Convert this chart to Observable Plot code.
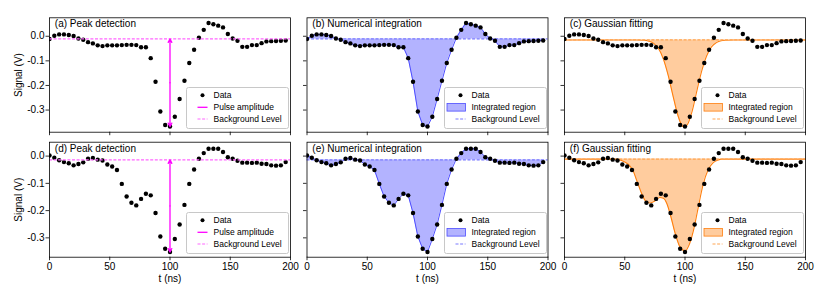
<!DOCTYPE html>
<html><head><meta charset="utf-8">
<script src="https://cdn.jsdelivr.net/npm/d3@7"></script>
<script src="https://cdn.jsdelivr.net/npm/@observablehq/plot@0.6"></script>
<style>
body{margin:0;background:#fff;}
#chart{position:relative;width:830px;height:286px;font-family:"Liberation Sans",Arial,sans-serif;}
#chart svg{position:absolute;left:0;top:0;}
</style></head><body><div id="chart"></div>
<script>
// ---- data ----
const t = [0,4,8,12,16,20,24,28,32,36,40,44,48,52,56,60,64,68,72,76,80,84,88,92,96,100,104,108,112,116,120,124,128,132,136,140,144,148,152,156,160,164,168,172,176,180,184,188,192,196];
const signalTop = [-0.011,0.002,0.0075,0.0075,0.005,0.001,-0.009,-0.014,-0.024,-0.029,-0.037,-0.040,-0.037,-0.037,-0.037,-0.036,-0.035,-0.035,-0.036,-0.045,-0.045,-0.089,-0.185,-0.306,-0.361,-0.367,-0.327,-0.255,-0.181,-0.109,-0.055,-0.006,0.026,0.054,0.049,0.043,0.036,0.009,-0.009,-0.018,-0.043,-0.043,-0.036,-0.036,-0.028,-0.021,-0.020,-0.019,-0.018,-0.017];
const signalBottom = [0.002,-0.006,-0.015,-0.022,-0.026,-0.034,-0.029,-0.023,-0.010,-0.007,-0.013,-0.016,-0.031,-0.038,-0.051,-0.102,-0.148,-0.171,-0.181,-0.157,-0.138,-0.144,-0.209,-0.295,-0.340,-0.352,-0.304,-0.251,-0.179,-0.102,-0.049,-0.010,0.011,0.027,0.027,0.027,0.015,-0.004,-0.010,-0.017,-0.024,-0.024,-0.025,-0.024,-0.028,-0.029,-0.034,-0.035,-0.034,-0.022];
const backgroundTop = -0.011;
const backgroundBottom = -0.014;
const fitBackgroundTop = -0.015;
const fitBackgroundBottom = -0.011;
// Gaussian fit curves (c) and (f)
const fitTopT = [0,60,66,70,74,78,82,86,90,94,98,100,102,106,110,114,118,122,126,130,134,140,200];
const fitTopV = [-0.015,-0.015,-0.016,-0.020,-0.029,-0.050,-0.092,-0.158,-0.241,-0.320,-0.366,-0.370,-0.359,-0.303,-0.219,-0.139,-0.079,-0.043,-0.026,-0.018,-0.016,-0.015,-0.015];
const fitBottomT = [0,40,45,50,54,57,60,64,67,71,75,79,82,85,88,92,96,100,103,107,111,115,119,123,127,131,200];
const fitBottomV = [-0.011,-0.011,-0.013,-0.022,-0.035,-0.055,-0.090,-0.137,-0.163,-0.172,-0.165,-0.152,-0.155,-0.175,-0.218,-0.286,-0.335,-0.348,-0.330,-0.273,-0.188,-0.105,-0.052,-0.026,-0.015,-0.011,-0.011];
const titlesTop = ["(a) Peak detection","(b) Numerical integration","(c) Gaussian fitting"];
const titlesBottom = ["(d) Peak detection","(e) Numerical integration","(f) Gaussian fitting"];
const legendPeak = ["Data","Pulse amplitude","Background Level"];
const legendArea = ["Data","Integrated region","Background Level"];
const xTicks = [0,50,100,150,200];
const yTicks = [0,-0.1,-0.2,-0.3];

// ---- layout ----
const W = 830, H = 286, FW = 241;
const colLeft = [49, 306.5, 564];
const rowBox = [[17.3,131.7],[141.7,256.7]];
const yDomains = [[-0.390,0.075],[-0.371,0.051]];
const FONT = '"Liberation Sans", Arial, sans-serif';

const styles = {
  peak:  {line:"#ff00ff", bg:"#ff66ff"},
  integ: {fill:"#b3b3ff", edge:"#4d4dff", bg:"#7a7aff"},
  gauss: {fill:"#ffcc9e", edge:"#ff7f0e", bg:"#ffa552"}
};

const fmtY = d => d3.format(".1f")(d).replace("\u2212","-");

function panel(row, col) {
  const sig = row === 0 ? signalTop : signalBottom;
  const data = t.map((x,i) => ({t:x, v:sig[i]}));
  const bg = row === 0 ? backgroundTop : backgroundBottom;
  const fbg = row === 0 ? fitBackgroundTop : fitBackgroundBottom;
  const fT = row === 0 ? fitTopT : fitBottomT;
  const fV = row === 0 ? fitTopV : fitBottomV;
  const fit = fT.map((x,i) => ({t:x, v:fV[i]}));
  const title = (row === 0 ? titlesTop : titlesBottom)[col];
  const [top, bottom] = rowBox[row];
  const left = colLeft[col];
  const kind = ["peak","integ","gauss"][col];
  const st = styles[kind];
  const marks = [];
  if (kind === "integ") {
    marks.push(Plot.areaY(data, {x:"t", y1:() => bg, y2:"v", fill:st.fill, stroke:null}));
    marks.push(Plot.line(data, {x:"t", y:"v", stroke:st.edge, strokeWidth:1}));
    marks.push(Plot.ruleY([bg], {stroke:st.bg, strokeWidth:1.2, strokeDasharray:"3,1.6"}));
  }
  if (kind === "gauss") {
    marks.push(Plot.areaY(fit, {x:"t", y1:() => fbg, y2:"v", fill:st.fill, stroke:null, curve:"monotone-x"}));
    marks.push(Plot.line(fit, {x:"t", y:"v", stroke:st.edge, strokeWidth:1.1, curve:"monotone-x"}));
    marks.push(Plot.ruleY([fbg], {stroke:st.bg, strokeWidth:1.2, strokeDasharray:"3,1.6"}));
  }
  marks.push(Plot.dot(data, {x:"t", y:"v", r:2.2, fill:"black", stroke:null, clip:true}));
  if (kind === "peak") {
    marks.push(Plot.ruleY([bg], {stroke:st.bg, strokeWidth:1.2, strokeDasharray:"3,1.6"}));
    const minV = d3.min(sig);
    const tMin = t[sig.indexOf(minV)];
    const mid = (minV + bg) / 2;
    const arr = [{x:tMin, a:mid, b:bg}, {x:tMin, a:mid, b:minV}];
    marks.push(Plot.arrow(arr, {x1:"x", x2:"x", y1:"a", y2:"b", stroke:st.line, strokeWidth:1.3, headLength:4.5, headAngle:55}));
  }
  marks.push(Plot.text([title], {frameAnchor:"top-left", dx:5.3, dy:2.2, lineAnchor:"top", textAnchor:"start", fontSize:10, fill:"black"}));
  marks.push(Plot.frame({stroke:"black", strokeWidth:0.8}));
  marks.push(Plot.axisY({ticks:yTicks, tickSize:3.5, tickPadding:1.5, strokeWidth:0.8,
    tickFormat: col === 0 ? fmtY : () => "",
    label: col === 0 ? "Signal (V)" : null, labelAnchor:"center", labelArrow:"none", labelOffset:35, fontSize:10}));
  marks.push(Plot.axisX({ticks:xTicks, tickSize:3.5, tickPadding:2, strokeWidth:0.8,
    tickFormat: row === 1 ? (d => String(d)) : () => "",
    label: row === 1 ? "t (ns)" : null, labelAnchor:"center", labelArrow:"none", labelOffset:25, fontSize:10}));

  const svg = Plot.plot({
    width: W, height: H,
    marginLeft: left, marginRight: W - left - FW,
    marginTop: top, marginBottom: H - bottom,
    x: {domain:[0,200]},
    y: {domain: yDomains[row]},
    style: {background:"transparent", overflow:"visible", fontFamily:FONT, fontSize:"10px", color:"black"},
    marks
  });

  // legend box (bottom-right inside frame)
  const lw = 102, lh = 41;
  const lx = Math.round(left + FW - 2 - lw) + 0.5, ly = Math.round(bottom - 3.5 - lh) + 0.5;
  const g = d3.select(svg).append("g")
    .attr("font-family", FONT).attr("font-size", 8.5).attr("text-anchor", "start");
  g.append("rect").attr("x", lx).attr("y", ly).attr("width", lw).attr("height", lh)
    .attr("rx", 2).attr("ry", 2)
    .style("fill", "white").style("fill-opacity", 0.8).style("stroke", "#c8c8c8").style("stroke-width", 1);
  const labels = kind === "peak" ? legendPeak : legendArea;
  const rows = [ly + 7.8, ly + 19.8, ly + 31.5];
  g.append("circle").attr("cx", lx + 16).attr("cy", rows[0]).attr("r", 2).style("fill", "black");
  if (kind === "peak") {
    g.append("line").attr("x1", lx + 11).attr("x2", lx + 21).attr("y1", rows[1]).attr("y2", rows[1])
      .style("stroke", st.line).style("stroke-width", 1.3);
  } else {
    g.append("rect").attr("x", lx + 2.5).attr("y", rows[1] - 3.8).attr("width", 18.5).attr("height", 7.6)
      .style("fill", st.fill).style("stroke", st.edge).style("stroke-width", 0.8);
  }
  g.append("line").attr("x1", lx + 11).attr("x2", lx + 21).attr("y1", rows[2]).attr("y2", rows[2])
    .style("stroke", st.bg).style("stroke-width", 1.2).style("stroke-dasharray", "3,1.6");
  labels.forEach((s, i) => {
    g.append("text").attr("x", lx + 27).attr("y", rows[i]).attr("dy", "0.35em")
      .style("fill", "black").style("text-anchor", "start").text(s);
  });
  return svg;
}

const chart = document.getElementById("chart");
for (let r = 0; r < 2; r++) for (let c = 0; c < 3; c++) chart.appendChild(panel(r, c));
</script>
</body></html>
